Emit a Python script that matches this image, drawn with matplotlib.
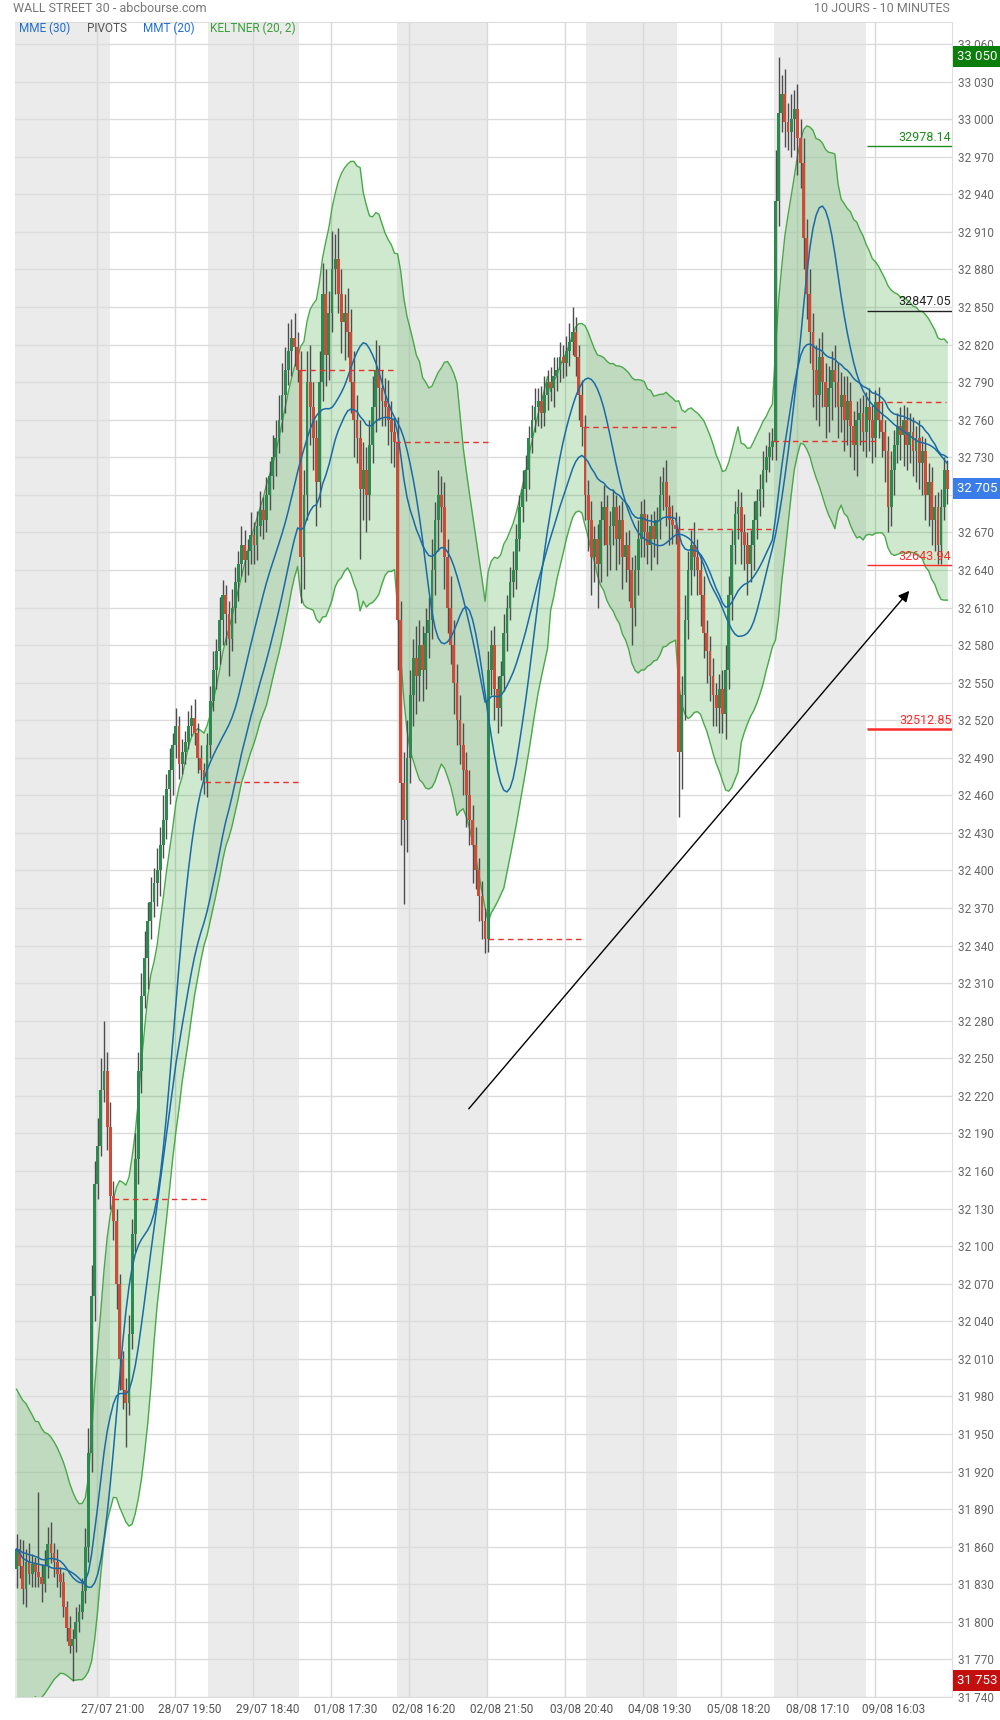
import numpy as np
import pandas as pd
import matplotlib
matplotlib.use("Agg")
import matplotlib.pyplot as plt
from matplotlib.ticker import FuncFormatter

plt.rcParams['font.family'] = ['Roboto', 'DejaVu Sans']

# 10-minute candles (closes, then wick lengths in points)
first_open = 31842
closes = [
    # session 1
    31858, 31845, 31826, 31848, 31838, 31846, 31840, 31836, 31830, 31845,
    31862, 31855, 31848, 31838, 31832, 31812, 31795, 31781, 31786, 31800,
    31808, 31825, 31860, 31935, 32060, 32150, 32180, 32225, 32240, 32195, 32140,
    # session 2
    32120, 32070, 32010, 31985, 31975, 32030, 32110, 32170, 32240, 32300,
    32330, 32360, 32375, 32390, 32400, 32420, 32440, 32465, 32480, 32500,
    32515, 32485, 32495, 32503, 32515, 32522, 32510, 32490, 32480, 32471,
    # session 3
    32500, 32535, 32560, 32575, 32600, 32620, 32605, 32585, 32610, 32630,
    32645, 32660, 32648, 32655, 32668, 32660, 32675, 32688, 32680, 32700,
    32715, 32730, 32745, 32760, 32780, 32800, 32815, 32825, 32818, 32800,
    # session 4
    32650, 32700, 32790, 32770, 32745, 32710, 32790, 32860, 32812, 32845,
    32880, 32888, 32860, 32838, 32845, 32830, 32790, 32760, 32745, 32705,
    32720, 32700, 32740, 32770, 32800, 32785, 32775, 32770, 32760, 32750, 32742,
    # session 5
    32600, 32470, 32440, 32490, 32540, 32570, 32555, 32580, 32560, 32590,
    32600, 32640, 32680, 32700, 32690, 32650, 32610, 32580, 32550, 32520,
    32500, 32480, 32460, 32440, 32420, 32400, 32380, 32360, 32345,
    # session 6
    32560, 32580, 32545, 32530, 32555, 32590, 32610, 32630, 32640, 32665,
    32690, 32705, 32720, 32745, 32760, 32770, 32775, 32765, 32780, 32790,
    32785, 32795, 32800, 32810, 32805, 32815, 32822, 32830, 32810, 32780, 32754,
    # session 7
    32700, 32680, 32650, 32665, 32645, 32680, 32690, 32660, 32675, 32690,
    32665, 32680, 32650, 32660, 32640, 32610, 32640, 32665, 32685, 32670,
    32660, 32675, 32665, 32680, 32700, 32710, 32690, 32680, 32676, 32673,
    # session 8
    32495, 32540, 32600, 32640, 32660, 32650, 32640, 32620, 32590, 32575,
    32555, 32540, 32530, 32545, 32525, 32560, 32620, 32660, 32685, 32690,
    32670, 32660, 32645, 32660, 32680, 32695, 32705, 32720, 32730, 32738, 32743,
    # session 9
    32935, 33005, 33020, 32998, 32990, 33000, 33008, 32985, 32965, 32905,
    32860, 32830, 32800, 32780, 32810, 32790, 32770, 32785, 32800, 32790,
    32770, 32780, 32760, 32775, 32755, 32740, 32760, 32765, 32750, 32770,
    32760, 32745, 32774,
    # session 10
    32760, 32750, 32735, 32690, 32720, 32740, 32755, 32748, 32760, 32740,
    32750, 32735, 32745, 32725, 32735, 32700, 32710, 32680, 32690, 32660,
    32690, 32720, 32705,
]
upper_wick = [
    12, 8, 20, 10, 15, 8, 6, 64, 10, 12, 14, 18, 8, 10, 6, 8, 5, 10, 8, 12,
    6, 10, 15, 20, 25, 18, 22, 25, 40, 15, 20,
    12, 10, 8, 6, 10, 15, 12, 20, 15, 18, 22, 15, 20, 12, 18, 15, 20, 12, 18,
    10, 15, 8, 10, 8, 12, 10, 15, 8, 10, 6,
    10, 12, 15, 10, 18, 12, 8, 10, 15, 12, 10, 15, 12, 10, 18, 10, 12, 15, 10,
    14, 12, 18, 15, 20, 25, 18, 22, 15, 20, 12,
    15, 20, 25, 30, 20, 15, 25, 25, 20, 18, 31, 20, 25, 20, 15, 20, 18, 25, 20,
    15, 22, 18, 20, 25, 24, 20, 15, 18, 22, 15, 12,
    20, 15, 25, 30, 20, 15, 25, 20, 15, 20, 18, 25, 14, 20, 15, 20, 15, 25, 20,
    15, 20, 18, 15, 20, 12, 15, 10, 12, 10,
    15, 12, 15, 10, 12, 15, 10, 12, 15, 12, 10, 15, 12, 10, 12, 15, 10, 12, 15,
    10, 12, 15, 10, 12, 10, 12, 15, 20, 12, 10, 12,
    10, 12, 15, 10, 12, 15, 18, 10, 12, 15, 10, 12, 15, 10, 12, 10, 12, 15, 10,
    12, 15, 10, 12, 10, 15, 12, 18, 10, 12, 10,
    10, 15, 20, 15, 12, 18, 15, 12, 15, 10, 12, 15, 10, 12, 15, 20, 15, 12, 10,
    15, 12, 15, 10, 12, 15, 10, 12, 15, 10, 12, 10,
    40, 45, 15, 20, 15, 20, 15, 20, 15, 20, 15, 20, 15, 20, 15, 20, 15, 18, 15,
    20, 15, 18, 15, 20, 15, 12, 15, 12, 15, 12, 15, 12, 10,
    12, 15, 10, 12, 15, 12, 10, 15, 12, 10, 15, 12, 10, 15, 12, 10, 15, 12, 10,
    12, 15, 10, 8,
]
lower_wick = [
    15, 10, 12, 14, 8, 10, 12, 8, 14, 6, 10, 8, 12, 10, 12, 8, 10, 6, 28, 10,
    8, 6, 10, 12, 15, 20, 12, 8, 10, 18, 10,
    15, 20, 25, 15, 35, 10, 12, 15, 20, 18, 10, 25, 15, 12, 18, 20, 10, 15, 12,
    20, 10, 12, 8, 10, 6, 8, 10, 12, 8, 10,
    12, 10, 8, 15, 10, 20, 25, 30, 10, 12, 15, 10, 18, 12, 10, 15, 12, 8, 15,
    10, 12, 10, 15, 12, 10, 15, 12, 20, 15, 10,
    36, 25, 20, 30, 25, 35, 20, 15, 25, 20, 15, 20, 15, 25, 30, 20, 25, 30, 20,
    56, 25, 30, 20, 15, 20, 25, 20, 15, 20, 25, 20,
    40, 50, 67, 25, 20, 25, 30, 20, 25, 15, 20, 15, 20, 25, 20, 25, 20, 15, 25,
    20, 15, 20, 25, 20, 30, 15, 20, 15, 11,
    10, 20, 25, 20, 15, 12, 15, 10, 12, 15, 10, 12, 10, 15, 12, 10, 15, 12, 10,
    12, 10, 15, 12, 10, 12, 10, 12, 10, 15, 20, 15,
    20, 25, 30, 20, 35, 15, 20, 25, 20, 15, 25, 20, 25, 20, 25, 30, 15, 20, 15,
    20, 15, 20, 15, 20, 15, 12, 15, 20, 15, 12,
    52, 30, 20, 15, 20, 15, 20, 25, 20, 25, 20, 25, 15, 20, 15, 20, 15, 20, 15,
    20, 25, 20, 25, 15, 20, 15, 12, 15, 10, 12, 10,
    15, 20, 15, 20, 15, 20, 25, 30, 20, 25, 20, 25, 30, 20, 25, 20, 25, 20, 25,
    20, 25, 20, 25, 20, 25, 20, 25, 20, 15, 20, 25, 20, 15,
    15, 20, 25, 20, 15, 20, 15, 20, 25, 20, 15, 20, 25, 20, 25, 20, 25, 20, 25,
    15, 15, 10, 12,
]
atr_start = 65   # band width at the left edge of the window

date_labels = ['27/07 21:00', '28/07 19:50', '29/07 18:40', '01/08 17:30', '02/08 16:20',
               '02/08 21:50', '03/08 20:40', '04/08 19:30', '05/08 18:20', '08/08 17:10',
               '09/08 16:03']
label_idx = [30.6, 55.5, 80.4, 105.4, 130.3, 155.2, 180.8, 205.8, 231.1, 256.4, 280.9]
grid_idx = [25.8, 50.7, 75.7, 100.7, 125.6, 150.6, 175.5, 200.5, 225.4, 250.0, 275.0]
shaded_days = [(-0.5, 29.8), (61.4, 90.5), (121.8, 150.9), (182.2, 211.3), (242.5, 272.0)]

pivot_levels = [32138, 32471, 32800, 32742, 32345, 32754, 32673, 32743, 32774]
pivot_start = [31, 60.3, 90.8, 121.2, 151, 181.4, 211.9, 242.3, 275.6]
pivot_end = [61, 90.8, 121.2, 151, 181.4, 211.9, 242.3, 275.6, 297.5]

levels = [32978.14, 32847.05, 32643.94, 32512.85]
level_colors = ['#1e8c1e', '#222222', '#ff2a2a', '#ff2a2a']
level_widths = [1.0, 1.0, 1.0, 1.8]

arrow_from = (144.2, 32208)
arrow_to = (286.4, 32625)

# ---- frame
close = pd.Series(closes, dtype=float)
opens = pd.Series([first_open] + closes[:-1], dtype=float)
highs = np.maximum(opens, close) + np.array(upper_wick)
lows = np.minimum(opens, close) - np.array(lower_wick)
x = np.arange(len(close))

# indicators
mme30 = close.ewm(span=30, adjust=False).mean()
mmt20 = close.rolling(10, min_periods=1).mean().rolling(11, min_periods=1).mean()
mid = close.ewm(span=20, adjust=False).mean()
prev = close.shift(1).fillna(first_open)
tr = np.maximum(highs - lows, np.maximum(abs(highs - prev), abs(lows - prev))).values
# 20-period average true range; the part of the window before the chart uses atr_start
padded = np.concatenate([np.full(19, atr_start), tr])
atr = np.convolve(padded, np.ones(20) / 20, mode='valid')
k_up = mid + 2 * atr
k_dn = mid - 2 * atr

fig = plt.figure(figsize=(10, 17.2), dpi=100)
ax = fig.add_axes([0.015, 0.01337, 0.937, 0.9738])

for a0, a1 in shaded_days:
    ax.axvspan(a0, a1, color='#ebebeb', lw=0, zorder=0)
for g in grid_idx:
    ax.axvline(g, color='#d9d9d9', lw=1, zorder=0.5)
ticks = np.arange(31740, 33061, 30)
ax.set_yticks(ticks)
ax.grid(axis='y', color='#dcdcdc', lw=1, zorder=0.5)
ax.set_axisbelow(True)

ax.fill_between(x, k_dn, k_up, color='#3cab3c', alpha=0.25, lw=0, zorder=1)
ax.plot(x, k_up, color='#4aa84a', lw=1, zorder=1.2)
ax.plot(x, k_dn, color='#4aa84a', lw=1, zorder=1.2)

up = (close >= opens).values
ax.vlines(x, lows, highs, color='#4d4d4d', lw=1, zorder=2)
body = np.maximum(abs(close - opens), 1.5).values
bottom = np.minimum(opens, close).values
ax.bar(x[up], body[up], bottom=bottom[up], width=0.9, color='#2d8a4e', lw=0, zorder=2.1)
ax.bar(x[~up], body[~up], bottom=bottom[~up], width=0.9, color='#cf4b35', lw=0, zorder=2.1)

ax.plot(x, mme30, color='#1a6aa8', lw=1.1, zorder=3)
ax.plot(x, mmt20, color='#1a6aa8', lw=1.1, zorder=3)

for lv, s, e in zip(pivot_levels, pivot_start, pivot_end):
    ax.hlines(lv, s, e, color='#e8312a', lw=1, linestyles=(0, (4, 3)), zorder=3)

for lv, c, w in zip(levels, level_colors, level_widths):
    ax.hlines(lv, 272.3, 299.5, color=c, lw=w, zorder=3)
    ax.text(299.3, lv + 2, f'{lv:.2f}', ha='right', va='bottom', color=c, fontsize=9, zorder=4)

ax.annotate('', xy=arrow_to, xytext=arrow_from,
            arrowprops=dict(arrowstyle='-|>', color='black', lw=1, mutation_scale=16))

ax.set_xlim(-0.5, 299.5)
ax.set_ylim(31740, 33077.5)

# price tags on the right axis; tick labels that they cover are left out
hi_val = highs.max()
lo_val = lows.min()
last_val = close.iloc[-1]
tags = [(hi_val, '#0a7d0a'), (last_val, '#3b7de8'), (lo_val, '#c40f0f')]


def fmt(v, p):
    if any(abs(v - t) < 8 for t, _ in tags):
        return ''
    return f'{int(v):,}'.replace(',', ' ')


ax.yaxis.tick_right()
ax.yaxis.set_major_formatter(FuncFormatter(fmt))
ax.tick_params(axis='y', length=0, pad=4, labelsize=8.5, labelcolor='#666666')
ax.set_xticks(label_idx)
ax.set_xticklabels(date_labels)
ax.tick_params(axis='x', length=0, pad=4, labelsize=8.5, labelcolor='#555555')

for sp in ['top', 'right', 'bottom']:
    ax.spines[sp].set_color('#dddddd')
ax.spines['left'].set_visible(False)

for val, col in tags:
    ax.text(1.005, val, f'{int(round(val)):,}'.replace(',', ' '), transform=ax.get_yaxis_transform(),
            ha='left', va='center', color='white', fontsize=9.5, zorder=5, clip_on=False,
            bbox=dict(boxstyle='square,pad=0.3', fc=col, ec='none'))

fig.text(0.013, 1 - 9 / 1720, 'WALL STREET 30 - abcbourse.com', ha='left', va='center',
         fontsize=9, color='#777777')
fig.text(0.95, 1 - 9 / 1720, '10 JOURS - 10 MINUTES', ha='right', va='center',
         fontsize=9, color='#777777')
for tx, xx, col in [('MME (30)', 0.019, '#1f6fd0'), ('PIVOTS', 0.087, '#555555'),
                    ('MMT (20)', 0.143, '#1f6fd0'), ('KELTNER (20, 2)', 0.210, '#3aa03a')]:
    fig.text(xx, 1 - 28 / 1720, tx, ha='left', va='center', fontsize=8.5, color=col)

fig.savefig('out.png', dpi=100)
